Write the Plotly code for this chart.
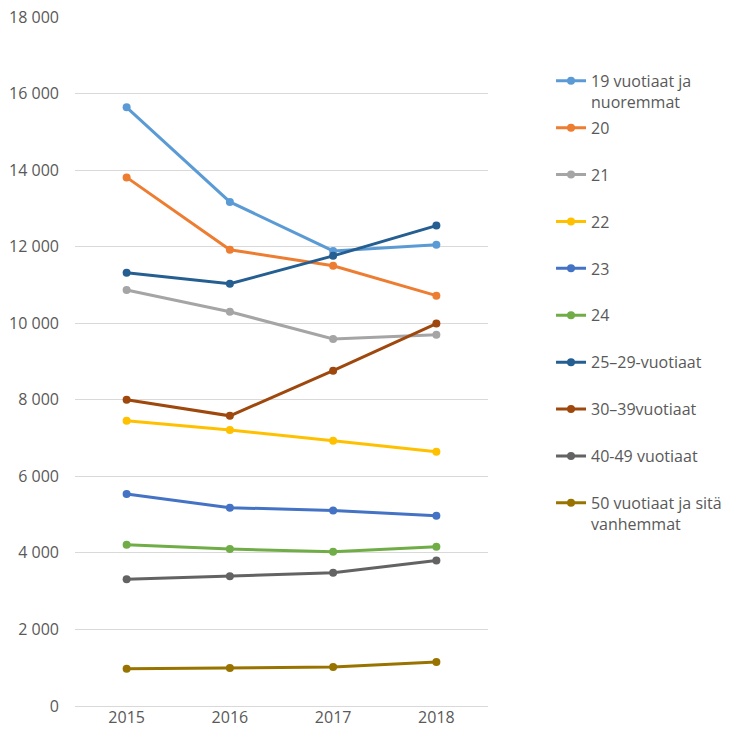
import plotly.graph_objects as go

years = ["2015", "2016", "2017", "2018"]

series_names = [
    "19 vuotiaat ja<br>nuoremmat",
    "20<br> ",
    "21<br> ",
    "22<br> ",
    "23<br> ",
    "24<br> ",
    "25–29-vuotiaat<br> ",
    "30–39vuotiaat<br> ",
    "40-49 vuotiaat<br> ",
    "50 vuotiaat ja sitä<br>vanhemmat",
]

v19 = [15640, 13170, 11890, 12050]
v20 = [13810, 11920, 11500, 10720]
v21 = [10870, 10300, 9590, 9700]
v22 = [7450, 7210, 6930, 6640]
v23 = [5540, 5180, 5110, 4970]
v24 = [4210, 4100, 4030, 4160]
v25_29 = [11320, 11030, 11760, 12550]
v30_39 = [8000, 7580, 8760, 9990]
v40_49 = [3310, 3390, 3480, 3800]
v50 = [970, 990, 1020, 1150]

series_values = [v19, v20, v21, v22, v23, v24, v25_29, v30_39, v40_49, v50]

colors = ["#5B9BD5", "#ED7D31", "#A5A5A5", "#FFC000", "#4472C4",
          "#70AD47", "#255E91", "#9E480E", "#636363", "#997300"]

y_ticks = [0, 2000, 4000, 6000, 8000, 10000, 12000, 14000, 16000, 18000]

fig = go.Figure()
for i, (name, vals) in enumerate(zip(series_names, series_values)):
    fig.add_trace(go.Scatter(
        x=years, y=vals, name=name, mode="lines+markers",
        line=dict(color=colors[i], width=3),
        marker=dict(color=colors[i], size=8),
        legendgroup=f"g{i}",
    ))

fig.update_layout(
    width=754, height=750,
    margin=dict(l=67, r=274, t=9, b=52, autoexpand=False),
    paper_bgcolor="white", plot_bgcolor="white",
    font=dict(family="Open Sans", size=16, color="#595959"),
    separators=", ",
    showlegend=True,
    legend=dict(
        x=1.1526, xanchor="left", y=0.932, yanchor="top",
        valign="top", tracegroupgap=2.3,
        font=dict(family="Open Sans", size=16, color="#595959"),
        bgcolor="rgba(0,0,0,0)",
    ),
    xaxis=dict(
        type="category", range=[-0.5, 3.5], automargin=False,
        showgrid=False, showline=False, zeroline=False,
        ticks="", tickfont=dict(size=16, color="#595959"),
    ),
    yaxis=dict(
        range=[0, 18000], tickvals=y_ticks, tickformat=",d", automargin=False,
        showgrid=True, gridcolor="#D9D9D9", gridwidth=1,
        zeroline=True, zerolinecolor="#D9D9D9", zerolinewidth=1,
        showline=False, ticks="", ticklabelstandoff=15,
        ticklabeloverflow="allow",
        tickfont=dict(size=16, color="#595959"),
    ),
)

fig.write_html("out.html")
